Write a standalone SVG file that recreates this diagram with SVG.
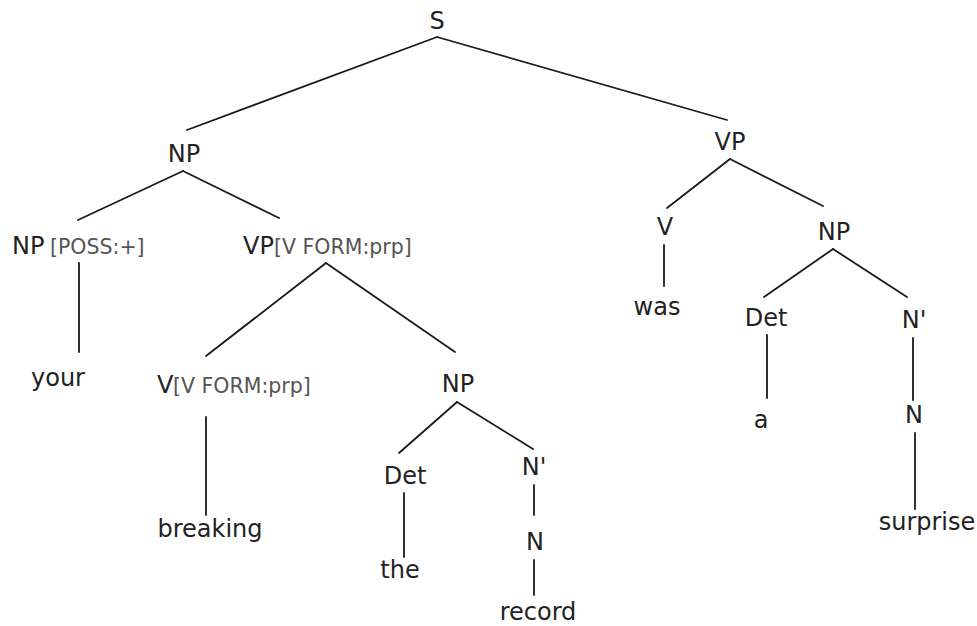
<svg xmlns="http://www.w3.org/2000/svg" width="977" height="626" viewBox="0 0 977 626">
  <style>
    .lbl { font-family: "DejaVu Sans", Verdana, sans-serif; font-size: 24px; fill: #222; }
    .mid { text-anchor: middle; }
    .feat { font-size: 20.5px; fill: #555; }
    .edge { stroke: #1a1a1a; stroke-width: 1.8; fill: none; stroke-linecap: round; }
  </style>
  <rect width="977" height="626" fill="#fff"/>

  <!-- branches -->
  <g id="connectors" class="edge">
    <path d="M437 37 L187 130"/>
    <path d="M437 37 L727 120"/>
    <path d="M183 171 L78 220"/>
    <path d="M183 171 L279 218"/>
    <path d="M79 263 L79 352"/>
    <path d="M326 263 L206 356"/>
    <path d="M326 263 L455 352"/>
    <path d="M206 417 L206 515"/>
    <path d="M457 402 L399 453"/>
    <path d="M457 402 L533 449"/>
    <path d="M404 493 L404 557"/>
    <path d="M534 485 L534 515"/>
    <path d="M534 560 L534 595"/>
    <path d="M730 159 L667 208"/>
    <path d="M730 159 L823 206"/>
    <path d="M664 245 L664 286"/>
    <path d="M833 249 L764 297"/>
    <path d="M833 249 L907 297"/>
    <path d="M767 335 L767 398"/>
    <path d="M913 338 L913 400"/>
    <path d="M915 433 L915 509"/>
  </g>

  <g id="n-s"><text class="lbl mid" x="437" y="29">S</text></g>
  <g id="n-np-subj"><text class="lbl mid" x="184" y="162">NP</text></g>
  <g id="n-vp-main"><text class="lbl mid" x="730" y="150">VP</text></g>
  <g id="n-np-poss"><text class="lbl" x="12" y="254">NP<tspan class="feat" x="50">[POSS:+]</tspan></text></g>
  <g id="n-vp-prp"><text class="lbl" x="243" y="254">VP<tspan class="feat" x="274">[V FORM:prp]</tspan></text></g>
  <g id="n-your"><text class="lbl mid" x="58" y="386">your</text></g>
  <g id="n-v-prp"><text class="lbl" x="157" y="393">V<tspan class="feat" x="173">[V FORM:prp]</tspan></text></g>
  <g id="n-breaking"><text class="lbl mid" x="210" y="537">breaking</text></g>
  <g id="n-np-obj"><text class="lbl mid" x="458" y="392">NP</text></g>
  <g id="n-det-the"><text class="lbl mid" x="405" y="484">Det</text></g>
  <g id="n-the"><text class="lbl mid" x="400" y="578">the</text></g>
  <g id="n-nbar-record"><text class="lbl mid" x="534" y="475">N'</text></g>
  <g id="n-n-record"><text class="lbl mid" x="535" y="550">N</text></g>
  <g id="n-record"><text class="lbl mid" x="538" y="620">record</text></g>
  <g id="n-v"><text class="lbl mid" x="665" y="235">V</text></g>
  <g id="n-was"><text class="lbl mid" x="657" y="315">was</text></g>
  <g id="n-np-pred"><text class="lbl mid" x="834" y="240">NP</text></g>
  <g id="n-det-a"><text class="lbl mid" x="766" y="326">Det</text></g>
  <g id="n-a"><text class="lbl mid" x="761" y="428">a</text></g>
  <g id="n-nbar-surprise"><text class="lbl mid" x="914" y="328">N'</text></g>
  <g id="n-n-surprise"><text class="lbl mid" x="914" y="423">N</text></g>
  <g id="n-surprise"><text class="lbl mid" x="927" y="530">surprise</text></g>
</svg>
